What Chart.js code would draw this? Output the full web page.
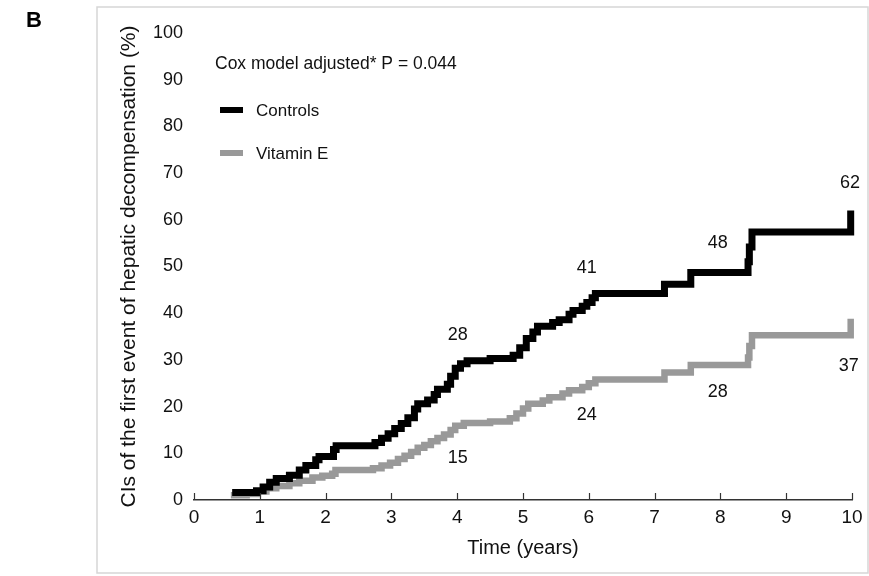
<!DOCTYPE html>
<html>
<head>
<meta charset="utf-8">
<script src="https://cdn.jsdelivr.net/npm/chart.js@4.4.1/dist/chart.umd.min.js"></script>
<style>
    html, body { margin: 0; padding: 0; background: #fff; }
    #wrap { width: 869px; height: 576px; position: relative; }
</style>
</head>
<body>
<div id="wrap"><canvas id="chart"></canvas></div>
<script>
// Cumulative incidence (%), step points (time in years)
const controlsTime = [0.58, 0.95, 1.05, 1.15, 1.25, 1.45, 1.6, 1.7, 1.85, 1.9, 2.12, 2.16,
    2.75, 2.85, 2.95, 3.05, 3.15, 3.25, 3.35, 3.4, 3.55, 3.65, 3.7, 3.85, 3.9, 3.97,
    4.05, 4.15, 4.5, 4.85, 4.95, 5.05, 5.15, 5.22, 5.45, 5.55, 5.7, 5.76, 5.9, 5.97,
    6.05, 6.1, 7.15, 7.55, 8.42, 8.44, 8.48, 9.98];
const controlsPct = [1.6, 2.0, 2.8, 3.8, 4.6, 5.3, 6.4, 7.4, 8.6, 9.3, 10.8, 11.6,
    12.3, 13.2, 14.2, 15.3, 16.4, 17.6, 19.5, 20.6, 21.4, 22.6, 23.7, 24.8, 26.5, 28.2,
    29.2, 29.8, 30.3, 31.0, 32.6, 34.6, 36.0, 37.2, 38.0, 38.6, 39.8, 40.6, 41.5, 42.3,
    43.3, 44.2, 46.2, 48.7, 51.0, 54.2, 57.4, 62.0];

const vitaminETime = [0.56, 0.8, 0.97, 1.1, 1.25, 1.45, 1.6, 1.8, 1.95, 2.1, 2.15,
    2.72, 2.85, 2.98, 3.1, 3.2, 3.3, 3.4, 3.5, 3.6, 3.7, 3.8, 3.9, 3.97, 4.1, 4.5,
    4.8, 4.9, 5.0, 5.08, 5.3, 5.4, 5.6, 5.7, 5.9, 6.0, 6.1, 7.15, 7.55, 8.42, 8.44,
    8.48, 9.98];
const vitaminEPct = [1.0, 1.3, 1.8, 2.5, 3.0, 3.6, 4.1, 4.8, 5.2, 5.6, 6.4,
    6.8, 7.4, 8.0, 8.8, 9.5, 10.3, 11.2, 11.8, 12.6, 13.3, 14.0, 15.0, 15.9, 16.5, 16.8,
    17.5, 18.5, 19.6, 20.6, 21.3, 22.0, 22.8, 23.5, 24.2, 25.0, 25.8, 27.3, 28.9, 30.5, 33.0,
    35.3, 38.8];

// numbers printed at 4, 6, 8 and 10 years
const milestoneYears = [4, 6, 8, 10];
const controlsMilestones = ['28', '41', '48', '62'];
const vitaminEMilestones = ['15', '24', '28', '37'];

const xTicks = [0, 1, 2, 3, 4, 5, 6, 7, 8, 9, 10];
const pValueText = 'Cox model adjusted* P = 0.044';

const FONT = "'Liberation Sans', Arial, sans-serif";

const toPoints = (xs, ys) => xs.map((x, i) => ({ x, y: ys[i] }));

// frame, panel letter, legend, p value, milestone numbers, inward x ticks
const decorPlugin = {
    id: 'decor',
    beforeDraw(chart) {
        const ctx = chart.ctx;
        ctx.save();
        ctx.strokeStyle = '#d6d6d6';
        ctx.lineWidth = 1.5;
        ctx.strokeRect(97, 7, 771, 566);
        ctx.restore();
    },
    afterDraw(chart, args, opts) {
        const ctx = chart.ctx;
        const xs = chart.scales.x;
        const ys = chart.scales.y;
        ctx.save();

        // panel letter
        ctx.fillStyle = '#000';
        ctx.font = `bold 22px ${FONT}`;
        ctx.textAlign = 'left';
        ctx.textBaseline = 'alphabetic';
        ctx.fillText('B', 26, 27);

        // tick marks pointing up into the plot
        ctx.strokeStyle = '#333';
        ctx.lineWidth = 1.2;
        xTicks.forEach(t => {
            const px = Math.round(xs.getPixelForValue(t)) + 0.5;
            ctx.beginPath();
            ctx.moveTo(px, ys.bottom);
            ctx.lineTo(px, ys.bottom - 7);
            ctx.stroke();
        });

        // p value + legend
        ctx.fillStyle = '#111';
        ctx.font = `17.5px ${FONT}`;
        ctx.textBaseline = 'middle';
        ctx.fillText(pValueText, 215, 64);

        ctx.font = `17px ${FONT}`;
        const rows = [110, 153];
        chart.data.datasets.forEach((ds, i) => {
            ctx.strokeStyle = ds.borderColor;
            ctx.lineWidth = 6;
            ctx.beginPath();
            ctx.moveTo(220, rows[i]);
            ctx.lineTo(243, rows[i]);
            ctx.stroke();
            ctx.fillStyle = '#111';
            ctx.fillText(ds.label, 256, rows[i] + 1);
        });

        // milestone numbers
        ctx.font = `18px ${FONT}`;
        ctx.textAlign = 'center';
        opts.labels.forEach(l => {
            ctx.fillText(l.text, xs.getPixelForValue(l.x), ys.getPixelForValue(l.y));
        });
        ctx.restore();
    }
};

const milestoneLabels = [];
const controlsAnchor = [35.3, 49.7, 55, 67.9];
const vitaminEAnchor = [9, 18.2, 23.1, 28.7];
const anchorShift = [0.01, -0.03, -0.04, -0.03];
milestoneYears.forEach((yr, i) => {
    milestoneLabels.push({ text: controlsMilestones[i], x: yr + anchorShift[i], y: controlsAnchor[i] });
    milestoneLabels.push({ text: vitaminEMilestones[i], x: yr + anchorShift[i] - (i === 3 ? 0.02 : 0), y: vitaminEAnchor[i] });
});

const ctx = document.getElementById('chart');
new Chart(ctx.getContext('2d'), {
    type: 'line',
    data: {
        datasets: [{
            label: 'Controls',
            data: toPoints(controlsTime, controlsPct),
            borderColor: '#000000',
            borderWidth: 7,
            stepped: true,
            pointRadius: 0,
            borderJoinStyle: 'miter',
            clip: false
        }, {
            label: 'Vitamin E',
            data: toPoints(vitaminETime, vitaminEPct),
            borderColor: '#999999',
            borderWidth: 6.5,
            stepped: true,
            pointRadius: 0,
            borderJoinStyle: 'miter',
            clip: false
        }]
    },
    options: {
        responsive: true,
        maintainAspectRatio: false,
        animation: false,
        layout: { padding: { left: 117, top: 33, right: 17, bottom: 0 } },
        plugins: {
            legend: { display: false },
            tooltip: { enabled: false },
            decor: { labels: milestoneLabels }
        },
        scales: {
            x: {
                type: 'linear',
                min: 0,
                max: 10,
                afterBuildTicks: scale => { scale.ticks = xTicks.map(v => ({ value: v })); },
                afterFit: scale => { scale.height = 76; },
                grid: { display: false, drawTicks: false },
                border: { display: true, color: '#333', width: 1.5 },
                ticks: { color: '#111', padding: 6, font: { family: FONT, size: 19 } },
                title: {
                    display: true,
                    text: 'Time (years)',
                    color: '#111',
                    padding: { top: 0, bottom: 16 },
                    font: { family: FONT, size: 20 }
                }
            },
            y: {
                min: 0,
                max: 100,
                afterFit: scale => { scale.width = 77; },
                grid: { display: false, drawTicks: false },
                border: { display: false },
                ticks: { stepSize: 10, color: '#111', padding: 11, font: { family: FONT, size: 18 } },
                title: {
                    display: true,
                    text: 'CIs of the first event of hepatic decompensation (%)',
                    color: '#111',
                    padding: 0,
                    font: { family: FONT, size: 21 }
                }
            }
        }
    },
    plugins: [decorPlugin]
});
</script>
</body>
</html>
